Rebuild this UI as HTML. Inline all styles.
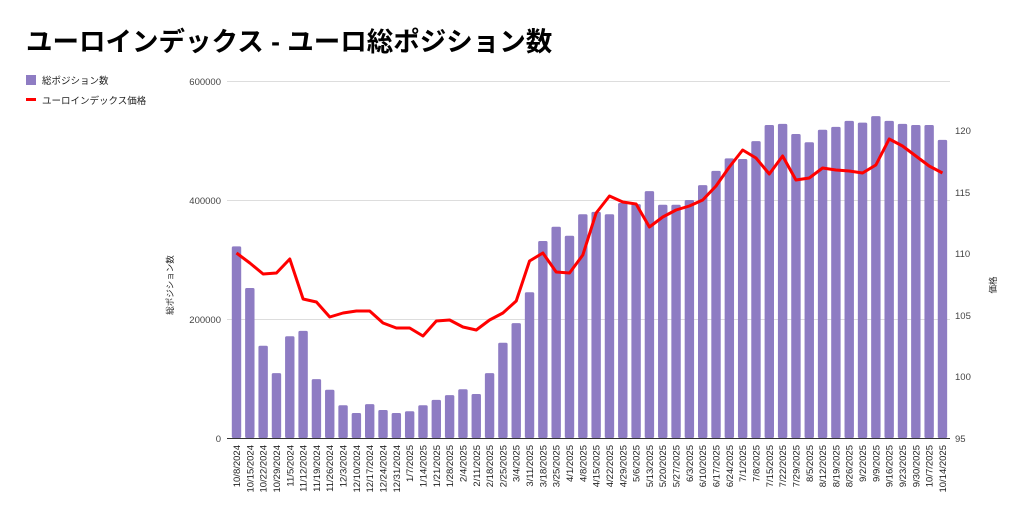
<!DOCTYPE html>
<html><head><meta charset="utf-8">
<style>
body{margin:0;background:#fff;width:1024px;height:518px;overflow:hidden;font-family:"Liberation Sans","Noto Sans CJK JP",sans-serif;}
</style></head>
<body>
<svg id="c" width="1024" height="518" xmlns="http://www.w3.org/2000/svg" font-family="Liberation Sans, Noto Sans CJK JP, sans-serif">
<text x="26" y="51" font-size="26.5" font-weight="bold" fill="#000">ユーロインデックス - ユーロ総ポジション数</text>
<rect x="26" y="75" width="10" height="10" fill="#8e7cc3"/>
<text x="42" y="84" font-size="9.5" fill="#222">総ポジション数</text>
<rect x="26" y="98" width="10" height="3" fill="#f00"/>
<text x="42" y="104" font-size="9.5" fill="#222">ユーロインデックス価格</text>
<g stroke="#ddd" stroke-width="1">
<line x1="227" y1="81.5" x2="950" y2="81.5"/>
<line x1="227" y1="200.5" x2="950" y2="200.5"/>
<line x1="227" y1="319.5" x2="950" y2="319.5"/>
</g>
<g font-size="9.5" fill="#444" text-anchor="end">
<text x="221" y="85">600000</text>
<text x="221" y="204">400000</text>
<text x="221" y="323">200000</text>
<text x="221" y="442">0</text>
</g>
<g font-size="9.5" fill="#444" text-anchor="start">
<text x="955" y="134">120</text>
<text x="955" y="196">115</text>
<text x="955" y="257">110</text>
<text x="955" y="319">105</text>
<text x="955" y="380">100</text>
<text x="955" y="442">95</text>
</g>
<text transform="translate(173,285) rotate(-90)" font-size="8.5" fill="#222" text-anchor="middle">総ポジション数</text>
<text transform="translate(996,285) rotate(-90)" font-size="8.5" fill="#222" text-anchor="middle">価格</text>
<g id="bars" fill="#8e7cc3"></g>
<line x1="227" y1="438.5" x2="950" y2="438.5" stroke="#333" stroke-width="1"/>
<polyline id="ln" fill="none" stroke="#f00" stroke-width="3" stroke-linejoin="round"/>
<g id="xl" font-size="9.5" fill="#222"></g>
</svg>
<script>
var v=[322,252,155,109,171,180,99,81,55,42,57,47,42,45,55,64,72,82,74,109,160,193,245,331,355,340,376,380,376,395,393,415,392,392,400,425,449,470,469,499,526,528,511,497,518,523,533,530,541,533,528,526,526,501];
var ly=[253,263,274,273,259,299,302,317,313,311,311,323,328,328,336,321,320,327,330,320,313,301,261,253,272,273,255,213,196,202,204,227,217,210,206,200,186,167,150,158,174,156,180,178,168,170,171,173,165,139,146,156,166,173];
var NS="http://www.w3.org/2000/svg",b=document.getElementById('bars'),xl=document.getElementById('xl'),pts=[];
var d=new Date(2024,9,8);
for(var i=0;i<54;i++){
 var cx=236.5+i*13.32,h=v[i]*1000/600000*357;
 var r=document.createElementNS(NS,'rect');
 r.setAttribute('x',cx-4.7);r.setAttribute('y',438-h);r.setAttribute('width',9.4);r.setAttribute('height',h);
 r.setAttribute('rx',1.5);b.appendChild(r);
 pts.push(cx+','+ly[i]);
 var t=document.createElementNS(NS,'text');
 t.setAttribute('transform','translate('+(cx+3.5)+',445) rotate(-90)');
 t.setAttribute('text-anchor','end');
 t.textContent=(d.getMonth()+1)+'/'+d.getDate()+'/'+d.getFullYear();
 xl.appendChild(t);
 d.setDate(d.getDate()+7);
}
document.getElementById('ln').setAttribute('points',pts.join(' '));
</script>
</body></html>
